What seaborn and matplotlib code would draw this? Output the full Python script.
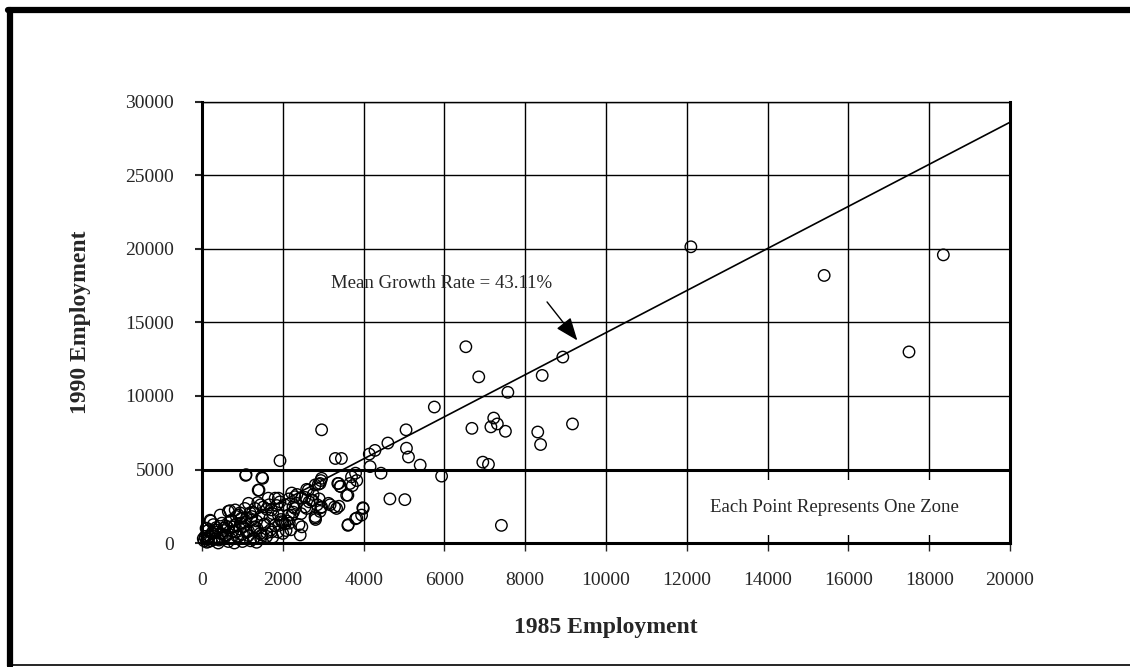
import matplotlib
matplotlib.use("Agg")
import matplotlib.pyplot as plt
import matplotlib.lines as mlines
import pandas as pd
import seaborn as sns

# zone employment, 1985 vs 1990
emp_1985 = [
    12100, 15400, 18350, 17500,
    6530, 6850, 8930, 8420, 7570, 7220, 7310, 7150, 6680, 7510, 8310, 8380, 9170,
    6950, 7090, 7410, 5930,
    5750, 5050, 2960, 4600, 4280, 4140, 5060, 5110, 5400, 4160, 4430,
    3300, 3450, 3800, 3830, 3720, 3360, 3430, 3610, 4650, 5020, 3980, 3950, 3800, 3610,
    2940, 2960, 2880, 2810, 2940, 3130, 3280, 3390, 2900, 2740, 2590,
    1930, 1090, 1480, 1410, 690, 215, 100,
    1080, 1500, 1390, 1640, 1890, 2220, 2300, 2470, 2630, 2800, 2920, 3380, 3420,
    3660, 3700, 3580, 2710, 2960, 3170, 3330, 3990, 3830, 3620,
    2300, 2140, 2470, 2430, 2800, 1890, 1970, 1720, 1520, 1310, 1060, 820, 650,
    450, 200, 120, 280, 490, 730, 980, 1230, 1480, 1680, 1310, 1110, 900, 650,
    400, 160, 30, 1480, 1720, 1270, 820, 570, 320, 75, 1020, 780, 530,
    1810, 1930, 1150, 900, 2340, 2220, 2590, 2050, 1660, 1380, 1190, 940, 2260,
    2920, 2800, 2550,
    50, 80, 120, 150, 180, 220, 250, 300, 330, 380, 420, 460, 500, 540, 600,
    640, 700, 760, 820, 860, 940, 1000, 1060, 1150, 1220, 1290, 1360, 1440,
    1530, 1600, 1700, 1800, 1880, 2000, 2080, 2160,
    1100, 1250, 1350, 1450, 1550, 1600, 1750, 1850, 1950, 2050, 2150, 2250, 2350,
    2450, 2550, 2650, 2750, 2850, 1150, 1300, 1450, 1600, 1750, 1900, 2000, 2100,
    2200, 2400, 700, 850, 950, 600, 350, 500, 250, 150, 1000, 1200, 1350, 800,
]
emp_1990 = [
    20150, 18200, 19600, 13000,
    13350, 11300, 12650, 11400, 10250, 8500, 8100, 7900, 7800, 7600, 7550, 6700, 8100,
    5500, 5350, 1200, 4550,
    9250, 7700, 7700, 6800, 6300, 6050, 6450, 5850, 5300, 5200, 4750,
    5750, 5750, 4750, 4250, 3900, 4050, 3850, 3250, 3000, 2950, 2400, 1900, 1650, 1200,
    4250, 4400, 4000, 1600, 2400, 2700, 2450, 2500, 3000, 2900, 3650,
    5600, 4650, 4450, 3600, 2200, 1500, 1000,
    4600, 4400, 3600, 3050, 3050, 3400, 3150, 3050, 3600, 3950, 4050, 4050, 3850,
    4050, 4500, 3250, 2900, 2450, 2600, 2350, 2350, 1700, 1250,
    2350, 1900, 1100, 550, 1700, 1900, 1450, 2250, 2450, 2350, 2350, 2250, 2150,
    1900, 1550, 1000, 1250, 1350, 1550, 1700, 1800, 1900, 1700, 1100, 750, 450, 100,
    0, 100, 300, 550, 750, 300, 750, 550, 750, 450, 1100, 1100, 1000,
    3050, 2800, 2700, 1900, 2700, 1900, 2350, 1300, 2600, 2750, 2050, 2050, 2100,
    2150, 1800, 2450,
    150, 350, 50, 250, 450, 150, 650, 250, 900, 400, 200, 650, 350, 850, 500,
    1050, 300, 800, 1250, 450, 950, 600, 1400, 800, 1550, 350, 1000, 650,
    1250, 450, 900, 1200, 750, 1400, 850, 1350,
    1700, 2100, 1500, 2600, 1300, 2300, 2000, 2550, 1600, 2600, 3000, 2450, 3300,
    2000, 3100, 2800, 3300, 2600, 500, 850, 300, 700, 400, 1200, 650, 1500,
    900, 1250, 1500, 1800, 1350, 1150, 1050, 600, 700, 850, 100, 150, 50, 0,
]

growth_rate = 0.4311
fit_x = [0, 20000]
fit_y = [v * (1 + growth_rate) for v in fit_x]

x_ticks = list(range(0, 20001, 2000))
y_ticks = list(range(0, 30001, 5000))

df = pd.DataFrame({"e85": emp_1985, "e90": emp_1990})
df_fit = pd.DataFrame({"x": fit_x, "y": fit_y})

sns.set_style("white")
plt.rcParams["font.family"] = ["Liberation Serif", "DejaVu Serif"]

fig = plt.figure(figsize=(11.3, 6.67), dpi=100)
ax = fig.add_axes([0.1788, 0.1859, 0.7150, 0.6612])

sns.lineplot(ax=ax, x="x", y="y", data=df_fit, color="black", linewidth=1.2, zorder=3)
sns.scatterplot(ax=ax, x="e85", y="e90", data=df, facecolor="none", edgecolor="black",
                linewidth=1.0, s=68, zorder=4, clip_on=False)

ax.set_xlim(0, 20000)
ax.set_ylim(0, 30000)
ax.set_xticks(x_ticks)
ax.set_yticks(y_ticks)
ax.grid(True, color="black", linewidth=1.0)
ax.axhline(y_ticks[1], color="black", linewidth=2.2, zorder=2)

for side in ["left", "bottom", "right"]:
    ax.spines[side].set_linewidth(2.2)
ax.spines["top"].set_linewidth(1.0)
for sp in ax.spines.values():
    sp.set_color("black")
    sp.set_visible(True)

ax.tick_params(axis="y", direction="out", length=5, width=1.5, pad=15, labelsize=14, left=True)
ax.tick_params(axis="x", direction="out", length=6, width=1.0, pad=15, labelsize=14, bottom=True)

ax.set_xlabel("1985 Employment", fontsize=17, fontweight="bold", labelpad=20)
ax.set_ylabel("1990 Employment", fontsize=17, fontweight="bold", labelpad=25)

ax.text(5940, 17650, "Mean Growth Rate = 43.11%", fontsize=13.5, ha="center", va="center", zorder=5)
ax.annotate("", xy=(9290, 13780), xytext=(8540, 16400),
            arrowprops=dict(arrowstyle="-|>,head_length=1.4,head_width=0.55",
                            color="black", lw=1.0, shrinkA=0, shrinkB=0),
            zorder=5)

ax.text(15650, 2400, "Each Point Represents One Zone", fontsize=13.5, ha="center", va="center",
        bbox=dict(boxstyle="square,pad=1.0", facecolor="white", edgecolor="none"), zorder=5)

# frame around the figure: thick left/top, thin bottom
fig.add_artist(mlines.Line2D([0.0088, 0.0088], [0.002, 0.985], color="black", linewidth=4.5))
fig.add_artist(mlines.Line2D([0.0068, 1.0], [0.985, 0.985], color="black", linewidth=4.5))
fig.add_artist(mlines.Line2D([0.0068, 1.0], [0.003, 0.003], color="black", linewidth=1.2))

plt.savefig("out.png", dpi=100)
